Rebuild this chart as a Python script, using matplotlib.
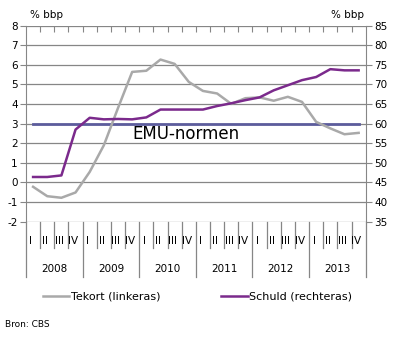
import matplotlib
matplotlib.use('Agg')
from matplotlib import pyplot as plt

years = ['2008', '2009', '2010', '2011', '2012', '2013']
quarters = ['I', 'II', 'III', 'IV']

# tekort (% bbp, linkeras)
tekort = [-0.22, -0.70, -0.78, -0.51,
          0.54, 1.9, 3.8, 5.64,
          5.70, 6.27, 6.05, 5.13,
          4.67, 4.54, 4.01, 4.30,
          4.34, 4.17, 4.37, 4.11,
          3.09, 2.76, 2.46, 2.53]
# schuld (% bbp, rechteras)
schuld = [46.4, 46.4, 46.8, 58.5,
          61.5, 61.1, 61.2, 61.1,
          61.6, 63.6, 63.6, 63.6,
          63.6, 64.5, 65.2, 66.0,
          66.7, 68.5, 69.8, 71.1,
          71.9, 73.9, 73.6, 73.6]
emu_norm = 3

plt.rcParams['font.family'] = 'DejaVu Sans'
plt.rcParams['axes.unicode_minus'] = False
fs = 7.5
grid_c = '#868686'

fig = plt.figure(figsize=(3.96, 3.42), dpi=100)
ax = fig.add_axes([0.0657, 0.3518, 0.8578, 0.5732])
ax2 = ax.twinx()

n = len(tekort)
x = list(range(n))
ax.set_xlim(-0.5, n - 0.5)
ax.set_ylim(-2, 8)
ax2.set_ylim(35, 85)

for v in range(-2, 9):
    ax.axhline(v, color=grid_c, lw=0.9, zorder=0)

ax.plot([x[0], x[-1]], [emu_norm, emu_norm], color='#5c5c9c', lw=2, zorder=2)
l1, = ax.plot(x, tekort, color='#a9a9a9', lw=1.8, zorder=3)
l2, = ax2.plot(x, schuld, color='#7b2a8c', lw=1.8, zorder=3)
ax.text(7, 2.45, 'EMU-normen', fontsize=12, va='center', ha='left', zorder=4)

for a in (ax, ax2):
    for s in a.spines.values():
        s.set_visible(False)
ax.spines['left'].set_visible(True)
ax.spines['left'].set_color(grid_c)
ax2.spines['right'].set_visible(True)
ax2.spines['right'].set_color(grid_c)

ax.set_yticks(range(-2, 9))
ax2.set_yticks(range(35, 90, 5))
ax.tick_params(axis='y', length=4, color=grid_c, labelsize=fs, pad=2)
ax2.tick_params(axis='y', length=4, color=grid_c, labelsize=fs, pad=2)

# category axis at the top with inward ticks
ax.set_xticks([i - 0.5 for i in range(1, n)])
ax.xaxis.set_ticks_position('top')
ax.tick_params(axis='x', direction='in', length=4, color=grid_c, labeltop=False)

# quarter / year labels below the plot
trans = ax.get_xaxis_transform()
for i in range(n + 1):
    y_end = -0.28 if i % 4 == 0 else -0.135
    ax.plot([i - 0.5, i - 0.5], [0, y_end], transform=trans, color=grid_c,
            lw=0.9, clip_on=False)
for i in range(n):
    ax.text(i - 0.15, -0.1, quarters[i % 4], transform=trans, fontsize=fs,
            ha='center', va='center')
for j, yr in enumerate(years):
    ax.text(4 * j + 1.5, -0.24, yr, transform=trans, fontsize=fs,
            ha='center', va='center')

fig.text(0.076, 0.955, '% bbp', fontsize=fs, ha='left', va='center')
fig.text(0.918, 0.955, '% bbp', fontsize=fs, ha='right', va='center')

fig.legend([l1], ['Tekort (linkeras)'], loc='center left',
           bbox_to_anchor=(0.108, 0.132), frameon=False, fontsize=8,
           handlelength=2.4, handletextpad=0.15, borderpad=0, borderaxespad=0)
fig.legend([l2], ['Schuld (rechteras)'], loc='center left',
           bbox_to_anchor=(0.558, 0.132), frameon=False, fontsize=8,
           handlelength=2.4, handletextpad=0.15, borderpad=0, borderaxespad=0)
fig.text(0.013, 0.05, 'Bron: CBS', fontsize=6.5, ha='left', va='center')

fig.savefig('out.png', dpi=100)
